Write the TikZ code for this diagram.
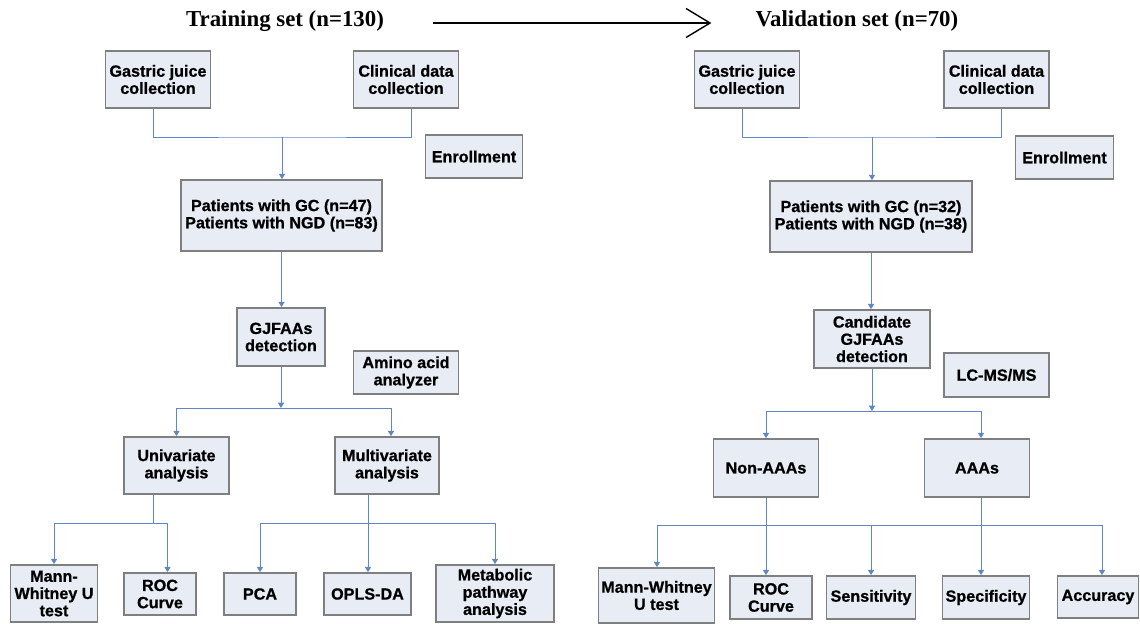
\documentclass[tikz,border=0pt]{standalone}
\usepackage{fontspec}
\setmainfont{Liberation Serif}
\setsansfont{Liberation Sans}
\newfontfamily\boxfont{Liberation Sans Bold}[FakeBold=0.8]
\usetikzlibrary{arrows.meta}
\definecolor{boxfill}{HTML}{E7ECF5}
\definecolor{boxline}{HTML}{7F7F7F}
\definecolor{linkblue}{HTML}{5F87C4}

\begin{document}
\begin{tikzpicture}[x=0.02cm, y=-0.02cm,
  box/.style={draw=boxline, line width=1pt, fill=boxfill, align=center, inner sep=1pt,
    font=\boxfont\fontsize{9.2}{9.8}\selectfont},
  tallbox/.style={box, minimum height=1.14cm},
  lowbox/.style={box, minimum height=0.86cm},
  settitle/.style={inner sep=0pt, font=\bfseries\fontsize{13}{15}\selectfont},
  link/.style={draw=linkblue, line width=0.55pt},
  conn/.style={link, -{Triangle[length=3pt,width=3.5pt]}},
  setarrow/.style={line width=0.8pt, -{Straight Barb[length=0.48cm,width=0.58cm]}}]
\useasboundingbox (0,0) rectangle (1140,623);

\node[settitle] (trainT) at (285,21) {Training set (n=130)};
\node[settitle] (validT) at (857,21) {Validation set (n=70)};
\draw[setarrow, shorten <=0.98cm, shorten >=0.88cm] ([yshift=-0.04cm]trainT.east) -- ([yshift=-0.04cm]validT.west);

\node[tallbox, minimum width=2.1cm] (gjL) at (158,79.5) {Gastric juice\\collection};
\node[tallbox, minimum width=2.1cm] (cdL) at (406,79.5) {Clinical data\\collection};
\node[lowbox, minimum width=1.94cm] (enL) at (474,156.5) {Enrollment};
\node[box, minimum width=4.02cm, minimum height=1.42cm] (patL) at (281.5,215.5) {Patients with GC (n=47)\\Patients with NGD (n=83)};
\node[box, minimum width=1.76cm, minimum height=1.16cm] (detL) at (281,337) {GJFAAs\\detection};
\node[lowbox, minimum width=2.1cm] (aaL) at (406,372.5) {Amino acid\\analyzer};
\node[tallbox, minimum width=2.1cm] (uniL) at (176.5,465.5) {Univariate\\analysis};
\node[tallbox, minimum width=2.08cm] (mulL) at (387,465.5) {Multivariate\\analysis};
\node[tallbox, minimum width=1.74cm] (mwL) at (54,593.5) {Mann-\\Whitney U\\test};
\node[box, minimum width=1.44cm, minimum height=0.84cm] (rocL) at (160,594) {ROC\\Curve};
\node[box, minimum width=1.44cm, minimum height=0.84cm] (pcaL) at (260,594) {PCA};
\node[box, minimum width=1.74cm, minimum height=0.84cm] (oplL) at (367.5,594) {OPLS-DA};
\node[tallbox, minimum width=2.36cm] (metL) at (495,593.5) {Metabolic\\pathway\\analysis};

\coordinate (jL) at (282,137);
\coordinate (bL) at (281,408);
\coordinate (uL) at (153,523);
\coordinate (mL) at (368,523);
\draw[link] ([xshift=-0.1cm]gjL.south) |- (jL) -| ([xshift=0.1cm]cdL.south);
\draw[conn] (jL) -- (jL |- patL.north);
\draw[conn] (patL.south) -- (patL.south |- detL.north);
\draw[conn] (detL.south) -- (bL);
\draw[conn] (bL) -| (uniL.north);
\draw[conn] (bL) -| ([xshift=0.08cm]mulL.north);
\draw[link] (uniL.south -| uL) -- (uL);
\draw[conn] (uL) -| (mwL.north);
\draw[conn] (uL) -| ([xshift=0.15cm]rocL.north);
\draw[conn] (mulL.south -| mL) -- (mL |- oplL.north);
\draw[conn] (mL) -| (pcaL.north);
\draw[conn] (mL) -| (metL.north);

\node[tallbox, minimum width=2.1cm] (gjR) at (747,79.5) {Gastric juice\\collection};
\node[tallbox, minimum width=2.1cm] (cdR) at (996.5,79.5) {Clinical data\\collection};
\node[lowbox, minimum width=1.96cm] (enR) at (1064.5,157.5) {Enrollment};
\node[box, minimum width=4.04cm, minimum height=1.42cm] (patR) at (871,216.5) {Patients with GC (n=32)\\Patients with NGD (n=38)};
\node[box, minimum width=2.32cm, minimum height=1.16cm] (detR) at (872,339) {Candidate\\GJFAAs\\detection};
\node[box, minimum width=2.1cm, minimum height=0.88cm] (lcR) at (996.5,375) {LC-MS/MS};
\node[box, minimum width=2.1cm, minimum height=1.16cm] (nonR) at (766,468) {Non-AAAs};
\node[box, minimum width=2.1cm, minimum height=1.16cm] (aaaR) at (977,468) {AAAs};
\node[box, minimum width=2.32cm, minimum height=1.1cm] (mwR) at (656.5,595.5) {Mann-Whitney\\U test};
\node[lowbox, minimum width=1.64cm] (rocR) at (771,597.5) {ROC\\Curve};
\node[lowbox, minimum width=1.78cm] (senR) at (871,597.5) {Sensitivity};
\node[lowbox, minimum width=1.74cm] (speR) at (986,597.5) {Specificity};
\node[box, minimum width=1.62cm, minimum height=0.84cm] (accR) at (1098,597) {Accuracy};

\coordinate (jR) at (872,137);
\coordinate (bR) at (872,411);
\coordinate (barL) at (657,525);
\coordinate (barR) at (1102,525);
\draw[link] ([xshift=-0.1cm]gjR.south) |- (jR) -| ([xshift=0.1cm]cdR.south);
\draw[conn] (jR) -- (jR |- patR.north);
\draw[conn] (patR.south) -- (patR.south |- detR.north);
\draw[conn] (detR.south) -- (bR);
\draw[conn] (bR) -| (nonR.north);
\draw[conn] (bR) -| ([xshift=0.08cm]aaaR.north);
\draw[link] (barL) -- (barR);
\draw[conn] (barL) -- (barL |- mwR.north);
\draw[conn] (nonR.south) -- (nonR.south |- rocR.north);
\draw[conn] (senR.north |- barL) -- (senR.north);
\draw[conn] ([xshift=0.08cm]aaaR.south) -- ([xshift=0.08cm]aaaR.south |- speR.north);
\draw[conn] (barR) -- (barR |- accR.north);
\end{tikzpicture}
\end{document}
